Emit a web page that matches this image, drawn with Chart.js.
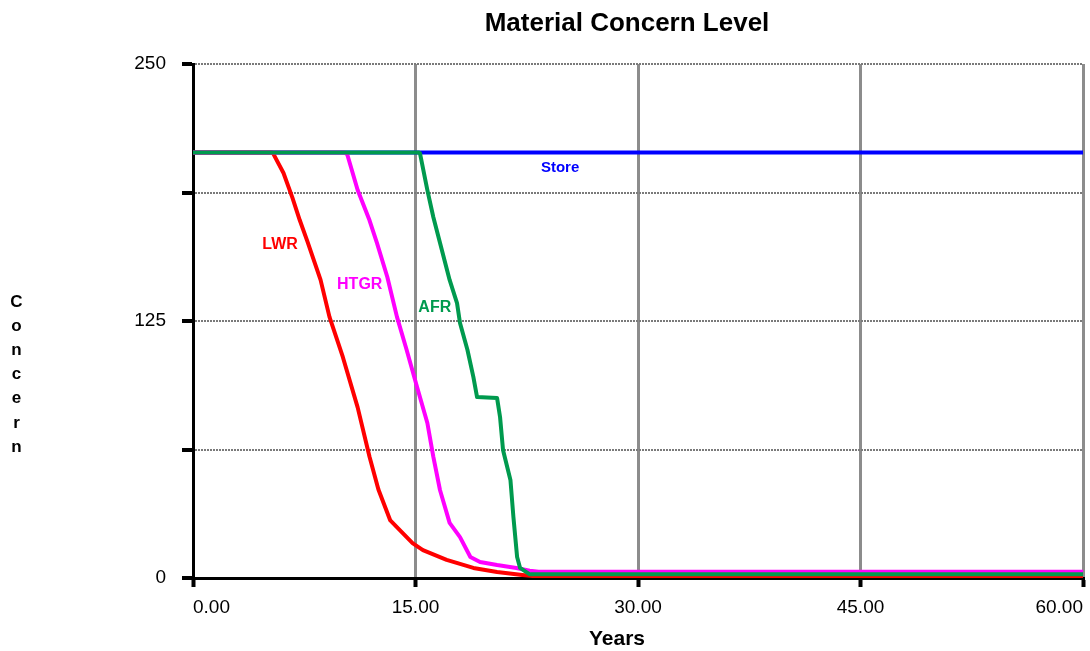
<!DOCTYPE html>
<html>
<head>
<meta charset="utf-8">
<script src="https://cdn.jsdelivr.net/npm/chart.js@4.4.0/dist/chart.umd.min.js"></script>
<style>
html,body{margin:0;padding:0;background:#fff;}
#wrap{width:1090px;height:651px;position:relative;}
</style>
</head>
<body>
<div id="wrap"><canvas id="c" width="1090" height="651"></canvas></div>
<script>
// ---- data ----
const storeYears = [0, 60];
const storeValues = [207, 207];

const lwrYears  = [0, 5.3, 5.4, 6.1, 6.7, 7.2, 7.7, 8.6, 9.2, 10.1, 11.1, 11.9, 12.5, 13.3, 14.8, 15.5, 17.1, 18.9, 20.5, 22.2, 23.5, 60];
const lwrValues = [207, 207, 206.5, 197, 185, 174, 164, 145, 127, 107.5, 83, 59, 43, 28, 17, 13.6, 8.8, 4.9, 2.9, 1.5, 0.5, 0.5];

const htgrYears  = [0, 10.2, 10.4, 11.1, 11.9, 12.4, 13.1, 13.75, 14.4, 15.1, 15.8, 16.2, 16.65, 17.3, 18.0, 18.7, 19.35, 20.5, 21.8, 22.7, 23.3, 60];
const htgrValues = [207, 207, 206, 188.7, 174, 163, 146.4, 127, 111, 93, 75.4, 59, 42.8, 26.8, 19.9, 10.2, 7.8, 6.3, 4.9, 3.5, 3, 3];

const afrYears  = [0, 15.2, 15.3, 15.8, 16.2, 16.65, 17.3, 17.8, 18.0, 18.5, 18.9, 19.15, 20.5, 20.7, 20.9, 21.4, 21.6, 21.85, 22.05, 22.7, 60];
const afrValues = [207, 207, 206.7, 188.7, 175.6, 163, 145, 133.7, 124, 111, 97.8, 88, 87.5, 78.3, 62.3, 47.7, 29.7, 10.2, 4.9, 1.8, 1.8];

const xTickValues = [0, 15, 30, 45, 60];
const yTickValues = [0, 62.5, 125, 187.5, 250];
const yTickLabels = ['0', '', '125', '', '250'];

const chartTitle = 'Material Concern Level';
const xTitle = 'Years';
const yTitle = 'Concern';

// in-plot series labels (data coordinates)
const seriesLabels = [
  {text: 'Store', x: 24.75, y: 199.5, color: '#0000ff', size: 15},
  {text: 'LWR',   x: 5.87,  y: 162,   color: '#ff0000', size: 16},
  {text: 'HTGR',  x: 11.24, y: 142.5, color: '#ff00ff', size: 16},
  {text: 'AFR',   x: 16.3,  y: 131.6, color: '#009a4e', size: 16}
];

const FONT = '"Liberation Sans", Arial, Helvetica, sans-serif';
const toXY = (xs, ys) => xs.map((x, i) => ({x: x, y: ys[i]}));

const textPlugin = {
  id: 'texts',
  afterDraw(chart) {
    const ctx = chart.ctx;
    const xs = chart.scales.x, ys = chart.scales.y;
    ctx.save();
    ctx.fillStyle = '#000';
    ctx.textAlign = 'center';
    ctx.textBaseline = 'alphabetic';
    ctx.font = 'bold 26px ' + FONT;
    ctx.fillText(chartTitle, 627, 31);
    ctx.font = 'bold 21px ' + FONT;
    ctx.fillText(xTitle, 617, 645);
    ctx.font = 'bold 17px ' + FONT;
    ctx.textBaseline = 'middle';
    for (let i = 0; i < yTitle.length; i++) {
      ctx.fillText(yTitle[i], 16.5, 302 + i * 24.2);
    }
    seriesLabels.forEach(l => {
      ctx.font = 'bold ' + l.size + 'px ' + FONT;
      ctx.fillStyle = l.color;
      ctx.fillText(l.text, xs.getPixelForValue(l.x), ys.getPixelForValue(l.y));
    });
    ctx.restore();
  }
};

new Chart(document.getElementById('c'), {
  type: 'line',
  data: {
    datasets: [
      {label: 'AFR',   data: toXY(afrYears, afrValues),     borderColor: '#009a4e'},
      {label: 'HTGR',  data: toXY(htgrYears, htgrValues),   borderColor: '#ff00ff'},
      {label: 'LWR',   data: toXY(lwrYears, lwrValues),     borderColor: '#ff0000'},
      {label: 'Store', data: toXY(storeYears, storeValues), borderColor: '#0000ff'}
    ]
  },
  options: {
    responsive: false,
    animation: false,
    layout: {padding: {top: 64, right: 7, left: 0, bottom: 0}},
    plugins: {legend: {display: false}, tooltip: {enabled: false}, title: {display: false}},
    elements: {
      point: {radius: 0},
      line: {tension: 0, borderWidth: 4, fill: false, borderCapStyle: 'butt', borderJoinStyle: 'round'}
    },
    scales: {
      x: {
        type: 'linear', min: 0, max: 60, z: 1,
        afterBuildTicks: s => { s.ticks = xTickValues.map(v => ({value: v})); },
        afterFit: s => { s.height = 73; s.paddingLeft = 0; s.paddingRight = 0; },
        ticks: {
          align: 'inner', maxRotation: 0, autoSkip: false, padding: 9, color: '#000',
          font: {family: FONT, size: 19},
          callback: v => Number(v).toFixed(2)
        },
        grid: {
          color: c => (c.tick && c.tick.value === 0) ? 'rgba(0,0,0,0)' : '#8c8c8c',
          lineWidth: 3, tickColor: '#000', tickWidth: 4, tickLength: 9
        },
        border: {color: '#000', width: 3}
      },
      y: {
        type: 'linear', min: 0, max: 250,
        afterBuildTicks: s => { s.ticks = yTickValues.map(v => ({value: v})); },
        afterFit: s => { s.width = 193; },
        ticks: {
          padding: 16, color: '#000', font: {family: FONT, size: 19},
          callback: (v, i) => yTickLabels[i]
        },
        grid: {
          color: c => (c.tick && c.tick.value === 0) ? 'rgba(0,0,0,0)' : '#7a7a7a',
          lineWidth: 2, tickColor: '#000', tickWidth: 4, tickLength: 11
        },
        border: {color: '#000', width: 3, dash: [2, 1]}
      }
    }
  },
  plugins: [textPlugin]
});
</script>
</body>
</html>
